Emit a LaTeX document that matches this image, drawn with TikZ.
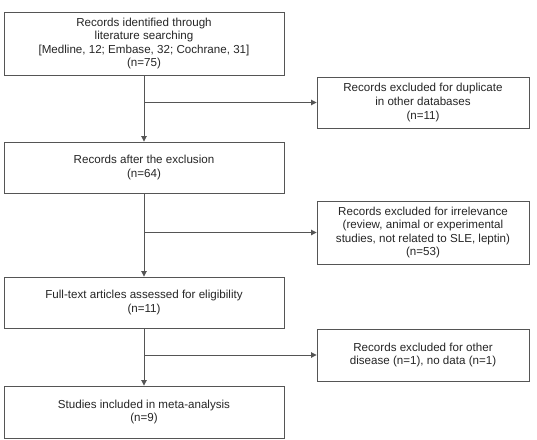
\documentclass[tikz,border=0pt]{standalone}
\usepackage{fontspec}
\setmainfont{Liberation Sans}
\usetikzlibrary{arrows.meta}
\definecolor{linegray}{HTML}{555555}
\definecolor{textgray}{HTML}{262626}
\begin{document}
\begin{tikzpicture}[x=1pt,y=-1pt,
  box/.style={draw=linegray, line width=0.9pt, fill=white, align=center, inner sep=0pt,
    text=textgray, font=\fontsize{11.6}{13.6}\selectfont},
  flowarrow/.style={draw=linegray, line width=0.9pt, -{Triangle[width=5.5pt,length=5.5pt]}}]
\useasboundingbox (0,0) rectangle (537,439);
\node[box, minimum width=280pt, minimum height=63pt] (b1) at (144,43.5)
  {Records identified through\\literature searching\\{[}Medline, 12; Embase, 32; Cochrane, 31{]}\\(n=75)};
\node[box, minimum width=280pt, minimum height=51pt] (b2) at (144,167.5)
  {Records after the exclusion\\(n=64)};
\node[box, minimum width=280pt, minimum height=51pt] (b3) at (144,302.5)
  {Full-text articles assessed for eligibility\\(n=11)};
\node[box, minimum width=280pt, minimum height=52pt] (b4) at (144,412)
  {Studies included in meta-analysis\\(n=9)};
\node[box, minimum width=212pt, minimum height=51pt] (r1) at (423,102.5)
  {Records excluded for duplicate\\in other databases\\(n=11)};
\node[box, minimum width=212pt, minimum height=63pt] (r2) at (423,232.5)
  {Records excluded for irrelevance\\(review, animal or experimental\\studies, not related to SLE, leptin)\\(n=53)};
\node[box, minimum width=212pt, minimum height=52pt] (r3) at (423,355)
  {Records excluded for other\\disease (n=1), no data (n=1)};
\draw[flowarrow] (b1) -- (b2);
\draw[flowarrow] (b2) -- (b3);
\draw[flowarrow] (b3) -- (b4);
\draw[flowarrow] (r1.west -| b1.south) -- (r1.west);
\draw[flowarrow] (r2.west -| b2.south) -- (r2.west);
\draw[flowarrow] (r3.west -| b3.south) -- (r3.west);
\end{tikzpicture}
\end{document}
